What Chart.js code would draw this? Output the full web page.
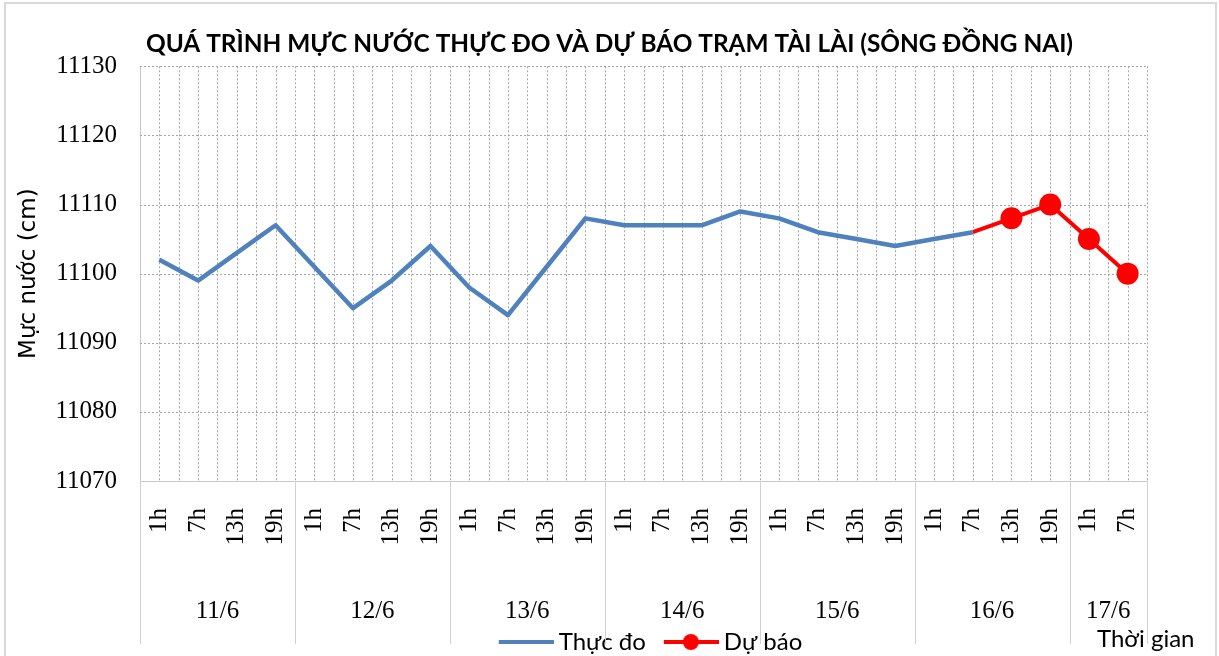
<!DOCTYPE html>
<html><head><meta charset="utf-8">
<script src="https://cdn.jsdelivr.net/npm/chart.js@4.4.0/dist/chart.umd.min.js"></script>
<style>
html,body{margin:0;padding:0;background:#fff;}
#wrap{position:relative;width:1219px;height:656px;overflow:hidden;background:#fff;}
#note{position:absolute;left:1097px;top:626px;font:24px/24px Lato, sans-serif;color:#000;white-space:nowrap;}
</style></head><body>
<div id="wrap"><canvas id="c" width="1219" height="656"></canvas><div id="note">Thời gian</div></div>
<script>
// ---- data ----
const hours = ['1h','7h','13h','19h','1h','7h','13h','19h','1h','7h','13h','19h',
               '1h','7h','13h','19h','1h','7h','13h','19h','1h','7h','13h','19h','1h','7h'];
const days = ['11/6','12/6','13/6','14/6','15/6','16/6','17/6'];
const dayCounts = [4,4,4,4,4,4,2];
const observed = [11102,11099,11103,11107,11101,11095,11099,11104,11098,11094,11101,11108,
                  11107,11107,11107,11109,11108,11106,11105,11104,11105,11106,null,null,null,null];
const forecast = [null,null,null,null,null,null,null,null,null,null,null,null,
                  null,null,null,null,null,null,null,null,null,11106,11108,11110,11105,11100];
const yTicks = [11070,11080,11090,11100,11110,11120,11130];
const seriesNames = ['Thực đo','Dự báo'];
const chartTitle = 'QUÁ TRÌNH MỰC NƯỚC THỰC ĐO VÀ DỰ BÁO TRẠM TÀI LÀI (SÔNG ĐỒNG NAI)';
const yTitle = 'Mực nước (cm)';

// derived
const groupCenters = []; const groupBounds = [-0.5];
{ let s = 0; dayCounts.forEach(c => { groupCenters.push(s + (c - 1) / 2); s += c; groupBounds.push(s - 0.5); }); }

const BLUE = '#4f81bd', RED = '#ff0000';
function legendIcon(color, marker) {
  const cv = document.createElement('canvas'); cv.width = 76; cv.height = 20;
  const g = cv.getContext('2d');
  g.strokeStyle = color; g.lineWidth = 4; g.lineCap = 'butt';
  g.beginPath(); g.moveTo(21, 10); g.lineTo(76, 10); g.stroke();
  if (marker) { g.fillStyle = color; g.beginPath(); g.arc(48, 10, 8, 0, Math.PI * 2); g.fill(); }
  return cv;
}
const icons = [legendIcon(BLUE, false), legendIcon(RED, true)];

const excelGrid = {
  id: 'excelGrid',
  beforeDraw(chart) {
    const ctx = chart.ctx; ctx.save(); ctx.fillStyle = '#fff'; ctx.fillRect(0, 0, chart.width, chart.height); ctx.restore();
  },
  beforeDatasetsDraw(chart) {
    const {ctx, chartArea: {left, right, top, bottom}, scales: {x, y}} = chart;
    ctx.save();
    ctx.lineWidth = 1; ctx.strokeStyle = '#a6a6a6'; ctx.setLineDash([2, 2]);
    yTicks.forEach(v => {
      if (v === yTicks[0]) return;
      const py = Math.round(y.getPixelForValue(v)) + 0.5;
      ctx.beginPath(); ctx.moveTo(left, py); ctx.lineTo(right, py); ctx.stroke();
    });
    for (let k = 0; k <= hours.length - 0.5; k += 0.5) {
      const px = Math.round(x.getPixelForValue(k)) + 0.5;
      ctx.beginPath(); ctx.moveTo(px, top); ctx.lineTo(px, bottom); ctx.stroke();
    }
    ctx.setLineDash([]);
    ctx.strokeStyle = '#d0d0d0';
    groupBounds.forEach(b => {
      const px = Math.round(x.getPixelForValue(b)) + 0.5;
      ctx.beginPath(); ctx.moveTo(px, bottom); ctx.lineTo(px, bottom + 163); ctx.stroke();
    });
    ctx.restore();
  },
  afterDraw(chart) {
    const ctx = chart.ctx; ctx.save();
    ctx.strokeStyle = '#d9d9d9'; ctx.lineWidth = 2;
    ctx.strokeRect(5, 3, 1211, 700);
    ctx.restore();
  }
};

new Chart(document.getElementById('c'), {
  type: 'line',
  data: {
    labels: hours,
    datasets: [
      { label: seriesNames[0], data: observed, borderColor: BLUE, backgroundColor: BLUE,
        borderWidth: 4.5, pointRadius: 0, tension: 0, borderJoinStyle: 'round' },
      { label: seriesNames[1], data: forecast, borderColor: RED, backgroundColor: RED,
        borderWidth: 4, tension: 0, borderJoinStyle: 'round',
        pointRadius: forecast.map((v, i) => (v === null || i === 21) ? 0 : 11),
        pointBorderWidth: 0, pointBackgroundColor: RED }
    ]
  },
  options: {
    responsive: false, animation: false, devicePixelRatio: 1,
    layout: { padding: { left: 0, right: 0, top: 0, bottom: -8 } },
    plugins: {
      title: { display: true, text: chartTitle, color: '#000',
        font: { family: 'Lato', size: 24.4, weight: 'bold' }, padding: { top: 30, bottom: 7 } },
      legend: {
        position: 'bottom', fullSize: false,
        labels: {
          usePointStyle: true, pointStyleWidth: 62, padding: 4, color: '#000',
          font: { family: 'Lato', size: 24 },
          generateLabels: () => seriesNames.map((n, i) => ({
            text: n, pointStyle: icons[i], fillStyle: 'transparent', strokeStyle: 'transparent',
            lineWidth: 0, hidden: false, datasetIndex: i, fontColor: '#000'
          }))
        }
      },
      tooltip: { enabled: false }
    },
    scales: {
      x: {
        type: 'category', position: 'bottom', offset: true, weight: 0,
        grid: { display: false, drawTicks: false },
        border: { display: true, color: '#c8c8c8', width: 1 },
        ticks: { autoSkip: false, minRotation: 90, maxRotation: 90, padding: 27, color: '#000',
          font: { family: 'Liberation Serif', size: 25 } },
        afterFit: s => { s.height = 100; }
      },
      xg: {
        type: 'linear', position: 'bottom', min: -0.5, max: hours.length - 0.5, weight: 1,
        grid: { display: false, drawTicks: false }, border: { display: false },
        afterBuildTicks: s => { s.ticks = groupCenters.map(v => ({ value: v })); },
        ticks: { autoSkip: false, minRotation: 0, maxRotation: 0, padding: 15, color: '#000',
          font: { family: 'Liberation Serif', size: 25 },
          callback: (v) => { const i = groupCenters.indexOf(v); return i >= 0 ? days[i] : ''; } },
        afterFit: s => { s.height = 45; }
      },
      y: {
        min: yTicks[0], max: yTicks[yTicks.length - 1],
        grid: { display: false, drawTicks: false },
        border: { display: true, color: '#c8c8c8', width: 1 },
        afterBuildTicks: s => { s.ticks = yTicks.map(v => ({ value: v })); },
        ticks: { padding: 23, color: '#000', font: { family: 'Liberation Serif', size: 25 },
          callback: v => String(v) },
        title: { display: true, text: yTitle, color: '#000',
          font: { family: 'DejaVu Sans', size: 23 }, padding: { top: 15, bottom: 0 } },
        afterFit: s => { s.width = 140; }
      },
      yr: {
        type: 'linear', position: 'right', display: true,
        grid: { display: false, drawTicks: false }, border: { display: false },
        ticks: { display: false },
        afterFit: s => { s.width = 72; }
      }
    }
  },
  plugins: [excelGrid]
});
</script>
</body></html>
